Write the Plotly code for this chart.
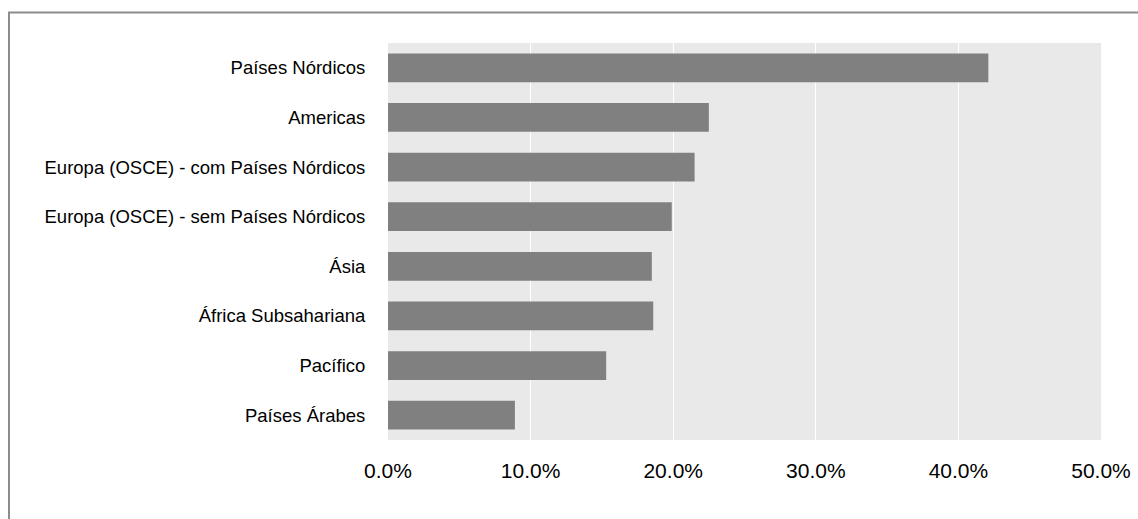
import plotly.graph_objects as go

categories = [
    "Países Nórdicos",
    "Americas",
    "Europa (OSCE) - com Países Nórdicos",
    "Europa (OSCE) - sem Países Nórdicos",
    "Ásia",
    "África Subsahariana",
    "Pacífico",
    "Países Árabes",
]
values = [0.421, 0.225, 0.215, 0.199, 0.185, 0.186, 0.153, 0.089]
tick_vals = [0.0, 0.1, 0.2, 0.3, 0.4, 0.5]
tick_text = ["0.0%", "10.0%", "20.0%", "30.0%", "40.0%", "50.0%"]

W, H = 1138, 519
L, R, T, B = 388, 37, 43, 79
pw, ph = W - L - R, H - T - B

fig = go.Figure(go.Bar(
    x=values, y=categories, orientation="h",
    marker=dict(color="#808080", line=dict(width=0)),
    width=0.58,
))

fig.update_layout(
    width=W, height=H,
    margin=dict(l=L, r=R, t=T, b=B, pad=0, autoexpand=False),
    paper_bgcolor="white", plot_bgcolor="#e9e9e9",
    showlegend=False,
    font=dict(family="Liberation Sans, Arial, sans-serif", color="black"),
    bargap=0.42,
)
fig.update_xaxes(
    range=[0, 0.5], tickvals=tick_vals, ticktext=tick_text,
    showgrid=True, gridcolor="white", gridwidth=1,
    zeroline=False, showline=False, automargin=False,
    ticks="outside", ticklen=12, tickcolor="rgba(0,0,0,0)",
    tickfont=dict(size=21, color="black"),
)
fig.update_yaxes(
    autorange="reversed", showgrid=False, zeroline=False, showline=False,
    automargin=False,
    ticks="outside", ticklen=18, tickcolor="rgba(0,0,0,0)",
    tickfont=dict(size=18.5, color="black"),
)

# outer chart border (top and left visible)
fig.add_shape(
    type="rect", xref="paper", yref="paper",
    x0=(9 - L) / pw, x1=(W + 10 - L) / pw,
    y0=-(H + 10 - (T + ph)) / ph, y1=1 + (T - 12.5) / ph,
    line=dict(color="#8c8c8c", width=2), fillcolor="rgba(0,0,0,0)",
    layer="below",
)

fig.write_html("out.html")
